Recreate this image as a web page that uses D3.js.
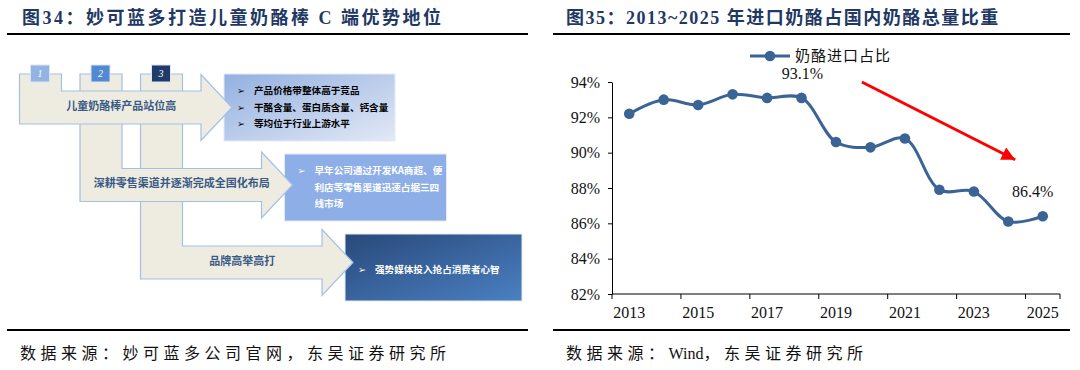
<!DOCTYPE html>
<html>
<head>
<meta charset="utf-8">
<script src="https://cdn.jsdelivr.net/npm/d3@7"></script>
<style>
  body { margin: 0; background: #fff; }
  svg { display: block; }
</style>
</head>
<body>
<div id="container"></div>
<script>
// chart data
const years = [2013, 2014, 2015, 2016, 2017, 2018, 2019, 2020, 2021, 2022, 2023, 2024, 2025];
const importShare = [92.2, 93.0, 92.7, 93.3, 93.1, 93.1, 90.6, 90.3, 90.8, 87.9, 87.8, 86.1, 86.4];
const yTicks = [82, 84, 86, 88, 90, 92, 94];
const xTickYears = [2013, 2015, 2017, 2019, 2021, 2023, 2025];
const labelYears = [2018, 2025];
const trendArrow = [[2019.75, 94.0], [2024.2, 89.6]];
const seriesName = '奶酪进口占比';

// diagram text
const stepTitles = ['儿童奶酪棒产品站位高', '深耕零售渠道并逐渐完成全国化布局', '品牌高举高打'];
const stepNotes = [
    ['产品价格带整体高于竞品', '干酪含量、蛋白质含量、钙含量', '等均位于行业上游水平'],
    ['早年公司通过开发KA商超、便', '利店等零售渠道迅速占据三四', '线市场'],
    ['强势媒体投入抢占消费者心智']
];

const titleLeft = '图34：妙可蓝多打造儿童奶酪棒 C 端优势地位';
const titleRight = '图35：2013~2025 年进口奶酪占国内奶酪总量比重';
const sourceLeft = '数据来源：妙可蓝多公司官网，东吴证券研究所';
const sourceRight = '数据来源：Wind，东吴证券研究所';

const width = 1080;
const height = 370;
const serif = '"Liberation Serif", "Noto Sans CJK SC", serif';
const cjk = '"Noto Sans CJK SC", sans-serif';
const navy = '#1f3864';
const lineColor = '#3b6496';

const svg = d3.select('#container')
    .append('svg')
    .attr('width', width)
    .attr('height', height);

// titles, rules and sources
[[titleLeft, 22, 7, 528, sourceLeft, 20, 2.5], [titleRight, 566, 553, 1070, sourceRight, 566, 1.5]].forEach((p) => {
    svg.append('text')
        .attr('x', p[1])
        .attr('y', 24)
        .style('font-family', serif)
        .style('font-weight', 'bold')
        .style('font-size', '18px')
        .style('letter-spacing', p[6] + 'px')
        .style('fill', navy)
        .text(p[0]);
    svg.append('line')
        .attr('x1', p[2]).attr('x2', p[3])
        .attr('y1', 34).attr('y2', 34)
        .style('stroke', '#000')
        .style('stroke-width', 2);
    svg.append('line')
        .attr('x1', p[2]).attr('x2', p[3])
        .attr('y1', 330).attr('y2', 330)
        .style('stroke', '#000')
        .style('stroke-width', 2);
    // latin runs keep normal spacing, CJK runs are spread out
    const src = svg.append('text')
        .attr('x', p[5])
        .attr('y', 359)
        .style('font-family', serif)
        .style('font-size', '16px')
        .style('fill', '#111');
    src.selectAll('tspan')
        .data(p[4].match(/[A-Za-z]+|[^A-Za-z]+/g))
        .enter()
        .append('tspan')
        .style('letter-spacing', (d) => /[A-Za-z]/.test(d) ? '0px' : '4.5px')
        .text((d) => d);
});

// ---------- left diagram ----------
const defs = svg.append('defs');
const grad = (id, c1, c2) => {
    const g = defs.append('linearGradient').attr('id', id)
        .attr('x1', 0).attr('y1', 0).attr('x2', 1).attr('y2', 1);
    g.append('stop').attr('offset', '0%').attr('stop-color', c1);
    g.append('stop').attr('offset', '100%').attr('stop-color', c2);
};
grad('box0', '#93b0df', '#e2e9f6');
grad('box2', '#29497a', '#4a80c2');

const boxFill = ['url(#box0)', '#8eaee7', 'url(#box2)'];
const boxText = ['#000', '#fff', '#fff'];
const boxW = [171, 162, 177];
const squareFill = ['#93b4e3', '#5289d2', '#1f3b6a'];

const colX = (i) => 19.5 + i * 60.5;
const bandTop = (i) => 91 + i * 77.5;
const headBase = (i) => 201 + i * 60.5;
const boxX = (i) => 224 + i * 60.5;
const boxY = (i) => 74 + i * 80;

// boxes
stepNotes.forEach((notes, i) => {
    svg.append('rect')
        .attr('x', boxX(i))
        .attr('y', boxY(i))
        .attr('width', boxW[i])
        .attr('height', 67)
        .style('fill', boxFill[i])
        .style('stroke', '#e4ebf6')
        .style('stroke-width', 1);
    const mid = boxY(i) + 33.5 + (notes.length === 1 ? 2 : 0);
    notes.forEach((t, j) => {
        const ty = mid + (j - (notes.length - 1) / 2) * 16.5;
        if (j === 0 || i === 0) {
            svg.append('text')
                .attr('x', boxX(i) + 13)
                .attr('y', ty)
                .attr('dy', '0.35em')
                .style('font-family', '"DejaVu Sans", sans-serif')
                .style('font-size', '9.5px')
                .style('fill', boxText[i])
                .text('➢');
        }
        svg.append('text')
            .attr('x', boxX(i) + 30)
            .attr('y', ty)
            .attr('dy', '0.35em')
            .style('font-family', cjk)
            .style('font-weight', 'bold')
            .style('font-size', '9.6px')
            .style('fill', boxText[i])
            .text(t);
    });
});

// bent arrows, drawn back to front
[2, 1, 0].forEach((i) => {
    const cx = colX(i), bt = bandTop(i), bb = bt + 33, hb = headBase(i);
    const mid = (bt + bb) / 2;
    const path = d3.path();
    path.moveTo(cx, 74);
    path.lineTo(cx + 42, 74);
    path.lineTo(cx + 42, bt);
    path.lineTo(hb, bt);
    path.lineTo(hb, mid - 33);
    path.lineTo(hb + 31, mid);
    path.lineTo(hb, mid + 33);
    path.lineTo(hb, bb);
    path.lineTo(cx, bb);
    path.closePath();
    svg.append('path')
        .attr('d', path.toString())
        .style('fill', '#eeece1')
        .style('stroke', '#a3bfe6')
        .style('stroke-width', 1.2);
});

// numbered squares and arrow labels
stepTitles.forEach((t, i) => {
    svg.append('rect')
        .attr('x', colX(i) + 11)
        .attr('y', 65)
        .attr('width', 19)
        .attr('height', 17)
        .style('fill', squareFill[i])
        .style('stroke', '#dbe5f3')
        .style('stroke-width', 1);
    svg.append('text')
        .attr('x', colX(i) + 20.5)
        .attr('y', 73.5)
        .attr('dy', '0.35em')
        .attr('text-anchor', 'middle')
        .style('font-family', serif)
        .style('font-style', 'italic')
        .style('font-size', '10px')
        .style('fill', '#fff')
        .text(i + 1);
    svg.append('text')
        .attr('x', (colX(i) + headBase(i)) / 2 + 11)
        .attr('y', bandTop(i) + 15)
        .attr('dy', '0.35em')
        .attr('text-anchor', 'middle')
        .style('font-family', cjk)
        .style('font-weight', 'bold')
        .style('font-size', '11px')
        .style('fill', '#3a5a86')
        .text(t);
});

// ---------- right line chart ----------
const xScale = d3.scaleLinear()
    .domain([years[0] - 0.5, years[years.length - 1] + 0.5])
    .range([612, 1060]);
const yScale = d3.scaleLinear()
    .domain([82, 94])
    .range([294, 82]);

const dataset = years.map((y, i) => ({ year: y, value: importShare[i] }));

// axes
const xAxis = svg.append('g').attr('id', 'x-axis');
xAxis.append('line')
    .attr('x1', xScale.range()[0]).attr('x2', xScale.range()[1])
    .attr('y1', yScale(82)).attr('y2', yScale(82))
    .style('stroke', '#000');
xAxis.selectAll('.tick')
    .data(xTickYears.map((y) => y - 0.5).concat([xScale.domain()[1]]))
    .enter()
    .append('line')
    .attr('x1', (d) => xScale(d)).attr('x2', (d) => xScale(d))
    .attr('y1', yScale(82)).attr('y2', yScale(82) + 5)
    .style('stroke', '#000');
xAxis.selectAll('.label')
    .data(xTickYears)
    .enter()
    .append('text')
    .attr('x', (d) => xScale(d))
    .attr('y', yScale(82) + 24)
    .attr('text-anchor', 'middle')
    .style('font-family', serif)
    .style('font-size', '16px')
    .style('fill', '#111')
    .text((d) => d);

const yAxis = d3.axisLeft(yScale)
    .tickValues(yTicks)
    .tickFormat((d) => d + '%')
    .tickSize(4)
    .tickSizeOuter(0)
    .tickPadding(8);
svg.append('g')
    .attr('id', 'y-axis')
    .attr('transform', `translate(${xScale.range()[0]}, 0)`)
    .call(yAxis)
    .attr('font-family', null)
    .call((g) => g.selectAll('text')
        .style('font-family', serif)
        .style('font-size', '16px')
        .style('fill', '#111'))
    .call((g) => g.selectAll('line, path').style('stroke', '#000'));

// series
const line = d3.line()
    .x((d) => xScale(d.year))
    .y((d) => yScale(d.value))
    .curve(d3.curveCatmullRom.alpha(0.5));

svg.append('path')
    .datum(dataset)
    .attr('d', line)
    .style('fill', 'none')
    .style('stroke', lineColor)
    .style('stroke-width', 3);

svg.selectAll('.dot')
    .data(dataset)
    .enter()
    .append('circle')
    .attr('class', 'dot')
    .attr('cx', (d) => xScale(d.year))
    .attr('cy', (d) => yScale(d.value))
    .attr('r', 5.3)
    .style('fill', lineColor);

// value labels
svg.selectAll('.vlabel')
    .data(dataset.filter((d) => labelYears.includes(d.year)))
    .enter()
    .append('text')
    .attr('x', (d) => xScale(d.year) + (d.year === 2025 ? -10 : 1))
    .attr('y', (d) => yScale(d.value) - 19)
    .attr('text-anchor', 'middle')
    .style('font-family', serif)
    .style('font-size', '16px')
    .style('fill', '#111')
    .text((d) => d.value.toFixed(1) + '%');

// red trend arrow
defs.append('marker')
    .attr('id', 'head')
    .attr('viewBox', '0 0 10 10')
    .attr('refX', 10).attr('refY', 5)
    .attr('markerWidth', 5).attr('markerHeight', 4.5)
    .attr('markerUnits', 'strokeWidth')
    .attr('orient', 'auto')
    .append('path')
    .attr('d', 'M0,0 L10,5 L0,10 Z')
    .style('fill', '#ff0000');

svg.append('line')
    .attr('x1', xScale(trendArrow[0][0]))
    .attr('y1', yScale(trendArrow[0][1]))
    .attr('x2', xScale(trendArrow[1][0]))
    .attr('y2', yScale(trendArrow[1][1]))
    .attr('marker-end', 'url(#head)')
    .style('stroke', '#ff0000')
    .style('stroke-width', 3);

// legend
const legend = svg.append('g').attr('transform', 'translate(750, 56)');
legend.append('line')
    .attr('x1', 0).attr('x2', 40)
    .style('stroke', lineColor)
    .style('stroke-width', 3);
legend.append('circle')
    .attr('cx', 20)
    .attr('r', 5.3)
    .style('fill', lineColor);
legend.append('text')
    .attr('x', 45)
    .attr('dy', '0.35em')
    .style('font-family', serif)
    .style('font-size', '15px')
    .style('letter-spacing', '1px')
    .style('fill', '#111')
    .text(seriesName);
</script>
</body>
</html>
